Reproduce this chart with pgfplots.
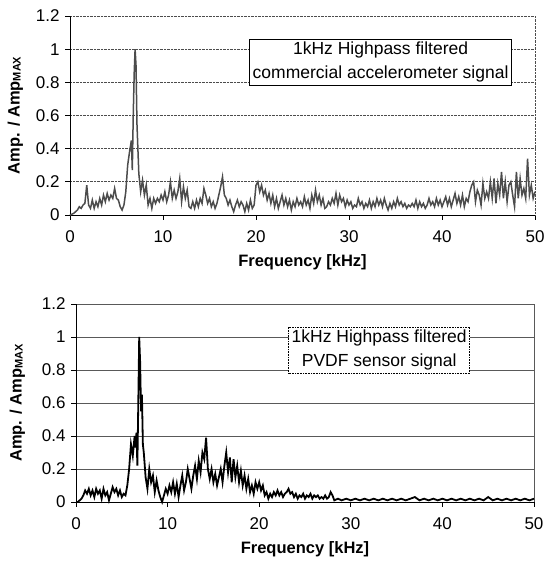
\documentclass[border=0pt]{standalone}
\usepackage{pgfplots}
\pgfplotsset{compat=1.18}
\usepackage{fontspec}
\setmainfont{Liberation Sans}
\begin{document}
\begin{tikzpicture}
\path[use as bounding box] (0pt,0pt) rectangle (555pt,561pt);
\pgfplotsset{
  myax/.style={
    scale only axis,
    xmin=0, xmax=50, ymin=0, ymax=1.2,
    xtick={0,10,20,30,40,50},
    ytick={0,0.2,0.4,0.6,0.8,1,1.2},
    yticklabels={0,0.2,0.4,0.6,0.8,1,1.2},
    axis x line*=bottom, axis y line*=left,
    axis line style={black, line width=0.8pt},
    tick align=outside,
    major tick length=5pt,
    tick style={black, line width=0.8pt},
    ymajorgrids=true,
    /pgf/number format/assume math mode=true,
    tick label style={font=\fontsize{17}{19}\selectfont},
    xticklabel style={yshift=-7pt},
    yticklabel style={xshift=-2pt},
    label style={font=\fontsize{16.5}{18}\selectfont\bfseries},
    xlabel={Frequency [kHz]},
    xlabel style={yshift=0pt},
    ylabel={Amp. / Amp\raisebox{-1pt}{\fontsize{11}{12}\selectfont MAX}},
    extra x ticks={50},
    extra x tick labels={},
    extra x tick style={xmajorgrids=true, major tick length=0pt},
    clip=false,
  }
}
% ---------------- top plot ----------------
\begin{axis}[myax, width=465pt, height=199pt, at={(70pt,346pt)}, anchor=origin,
  ylabel style={yshift=6pt},
  grid style={densely dotted, black!70, line width=0.7pt}]
\addplot[black!70, line width=1.5pt] coordinates {
(0,0) (0.4,0.01) (0.8,0.03) (1.0,0.05) (1.2,0.04) (1.4,0.06) (1.6,0.07)
(1.8,0.18) (2.0,0.06) (2.2,0.04) (2.4,0.09) (2.6,0.04) (2.8,0.08) (3.0,0.05) (3.2,0.1) (3.4,0.06)
(3.6,0.12) (3.8,0.08) (4.0,0.13) (4.2,0.09) (4.4,0.12) (4.6,0.1) (4.8,0.16) (5.0,0.1) (5.2,0.09)
(5.4,0.05) (5.6,0.03) (5.8,0.06) (6.0,0.14) (6.2,0.3) (6.4,0.38) (6.6,0.45) (6.7,0.27) (6.8,0.6)
(6.9,0.85) (7.0,1.0) (7.1,0.9) (7.2,0.55) (7.4,0.25) (7.6,0.14) (7.8,0.21) (8.0,0.12) (8.2,0.18)
(8.4,0.06) (8.6,0.1) (8.8,0.04) (9.0,0.1) (9.2,0.07) (9.4,0.1) (9.6,0.08) (9.8,0.12) (10.0,0.09)
(10.2,0.14) (10.4,0.08) (10.6,0.12) (10.8,0.2) (11.0,0.1) (11.2,0.15) (11.4,0.1) (11.6,0.14)
(11.8,0.22) (12.0,0.08) (12.2,0.17) (12.4,0.1) (12.6,0.15) (12.8,0.05) (13.0,0.04) (13.2,0.08)
(13.4,0.04) (13.6,0.09) (13.8,0.05) (14.0,0.1) (14.2,0.07) (14.4,0.16) (14.6,0.12) (14.8,0.07)
(15.0,0.1) (15.2,0.05) (15.4,0.08) (15.6,0.04) (15.8,0.07) (16.0,0.12) (16.2,0.17) (16.4,0.23)
(16.6,0.12) (16.8,0.1) (17.0,0.06) (17.2,0.09) (17.4,0.05) (17.6,0.02) (17.8,0.06) (18.0,0.09)
(18.2,0.05) (18.4,0.08) (18.6,0.06) (18.8,0.02) (19.0,0.07) (19.2,0.03) (19.4,0.09) (19.6,0.04)
(19.8,0.06) (20.0,0.18) (20.2,0.2) (20.4,0.14) (20.6,0.18) (20.8,0.12) (21.0,0.15) (21.2,0.09)
(21.4,0.13) (21.6,0.07) (21.8,0.12) (22.0,0.05) (22.2,0.1) (22.4,0.04) (22.6,0.08) (22.8,0.12)
(23.0,0.06) (23.2,0.1) (23.4,0.05) (23.6,0.09) (23.8,0.03) (24.0,0.08) (24.2,0.05) (24.4,0.1)
(24.6,0.06) (24.8,0.08) (25.0,0.05) (25.2,0.11) (25.4,0.06) (25.6,0.09) (25.8,0.04) (26.0,0.12)
(26.2,0.07) (26.4,0.15) (26.6,0.08) (26.8,0.12) (27.0,0.06) (27.2,0.1) (27.4,0.04) (27.6,0.05)
(27.8,0.08) (28.0,0.06) (28.2,0.1) (28.4,0.07) (28.6,0.13) (28.8,0.06) (29.0,0.12) (29.2,0.08)
(29.4,0.1) (29.6,0.05) (29.8,0.09) (30.0,0.06) (30.2,0.08) (30.4,0.04) (30.6,0.06) (30.8,0.05)
(31.0,0.1) (31.2,0.06) (31.4,0.08) (31.6,0.04) (31.8,0.07) (32.0,0.05) (32.2,0.09) (32.4,0.04)
(32.6,0.08) (32.8,0.05) (33.0,0.1) (33.2,0.06) (33.4,0.09) (33.6,0.05) (33.8,0.1) (34.0,0.06)
(34.2,0.03) (34.4,0.07) (34.6,0.04) (34.8,0.08) (35.0,0.05) (35.2,0.1) (35.4,0.06) (35.6,0.08)
(35.8,0.05) (36.0,0.07) (36.2,0.04) (36.4,0.06) (36.6,0.05) (36.8,0.07) (37.0,0.05) (37.2,0.09)
(37.4,0.04) (37.6,0.08) (37.8,0.05) (38.0,0.07) (38.2,0.04) (38.4,0.06) (38.6,0.1) (38.8,0.06)
(39.0,0.08) (39.2,0.05) (39.4,0.1) (39.6,0.06) (39.8,0.09) (40.0,0.05) (40.2,0.08) (40.4,0.11)
(40.6,0.06) (40.8,0.1) (41.0,0.05) (41.2,0.09) (41.4,0.13) (41.6,0.07) (41.8,0.11) (42.0,0.06)
(42.2,0.12) (42.4,0.05) (42.6,0.1) (42.8,0.08) (43.0,0.14) (43.2,0.18) (43.4,0.2) (43.6,0.08)
(43.8,0.15) (44.0,0.12) (44.2,0.06) (44.4,0.19) (44.6,0.1) (44.8,0.14) (45.0,0.1) (45.2,0.2)
(45.4,0.1) (45.6,0.22) (45.8,0.07) (46.0,0.19) (46.2,0.12) (46.4,0.26) (46.6,0.1) (46.8,0.2)
(47.0,0.08) (47.2,0.18) (47.4,0.2) (47.6,0.12) (47.8,0.05) (48.0,0.26) (48.2,0.1) (48.4,0.22)
(48.6,0.12) (48.8,0.16) (49.0,0.1) (49.2,0.34) (49.4,0.12) (49.6,0.18) (49.8,0.1) (50.0,0.14)
};
\node[draw=black, line width=0.6pt, fill=white, align=center, inner sep=3pt,
  font=\fontsize{17.5}{24}\selectfont] at (axis cs:33.4,0.92)
  {1kHz Highpass filtered\\commercial accelerometer signal};
\end{axis}
% ---------------- bottom plot ----------------
\begin{axis}[myax, width=458pt, height=198pt, at={(76pt,59pt)}, anchor=origin,
  ylabel style={yshift=10pt},
  grid style={black!65, line width=0.7pt}]
\addplot[black, line width=1.8pt] coordinates {
(0,0) (0.2,0) (0.4,0.01) (0.6,0.02) (0.8,0.04) (1.0,0.07) (1.2,0.05) (1.4,0.08) (1.6,0.04)
(1.8,0.07) (2.0,0.03) (2.2,0.08) (2.4,0.05) (2.6,0.07) (2.8,0.02) (3.0,0.08) (3.2,0.04) (3.4,0.06)
(3.6,0.01) (3.8,0.05) (4.0,0.09) (4.2,0.06) (4.4,0.08) (4.6,0.04) (4.8,0.07) (5.0,0.03) (5.2,0.05)
(5.4,0.04) (5.6,0.1) (5.8,0.2) (6.0,0.35) (6.2,0.28) (6.4,0.4) (6.5,0.33) (6.6,0.42) (6.7,0.22)
(6.8,0.6) (6.9,1.0) (7.0,0.85) (7.1,0.55) (7.2,0.65) (7.3,0.35) (7.4,0.3) (7.6,0.15) (7.8,0.08)
(8.0,0.2) (8.2,0.12) (8.4,0.16) (8.6,0.06) (8.8,0.13) (9.0,0.07) (9.2,0.03) (9.4,0.0) (9.6,0.04)
(9.8,0.08) (10.0,0.05) (10.2,0.1) (10.4,0.06) (10.6,0.12) (10.8,0.05) (11.0,0.11) (11.2,0.03)
(11.4,0.1) (11.6,0.16) (11.8,0.07) (12.0,0.12) (12.2,0.2) (12.4,0.14) (12.6,0.08) (12.8,0.16)
(13.0,0.22) (13.2,0.14) (13.4,0.25) (13.6,0.18) (13.8,0.3) (14.0,0.26) (14.2,0.39) (14.4,0.2)
(14.6,0.14) (14.8,0.2) (15.0,0.12) (15.2,0.17) (15.4,0.1) (15.6,0.15) (15.8,0.2) (16.0,0.12)
(16.2,0.22) (16.4,0.3) (16.6,0.18) (16.8,0.27) (17.0,0.12) (17.2,0.26) (17.4,0.15) (17.6,0.22)
(17.8,0.12) (18.0,0.19) (18.2,0.1) (18.4,0.16) (18.6,0.08) (18.8,0.14) (19.0,0.06) (19.2,0.1)
(19.4,0.05) (19.6,0.12) (19.8,0.08) (20.0,0.12) (20.2,0.07) (20.4,0.1) (20.6,0.04) (20.8,0.06)
(21.0,0.02) (21.2,0.05) (21.4,0.03) (21.6,0.06) (21.8,0.04) (22.0,0.07) (22.2,0.04) (22.4,0.06)
(22.6,0.03) (22.8,0.05) (23.0,0.06) (23.2,0.08) (23.4,0.05) (23.6,0.06) (23.8,0.03) (24.0,0.05)
(24.2,0.02) (24.4,0.04) (24.6,0.03) (24.8,0.05) (25.0,0.02) (25.2,0.04) (25.4,0.03) (25.6,0.05)
(25.8,0.02) (26.0,0.04) (26.2,0.03) (26.4,0.04) (26.6,0.02) (26.8,0.03) (27.0,0.02) (27.2,0.04)
(27.4,0.02) (27.6,0.03) (27.8,0.06) (28.0,0.04) (28.2,0.01) (28.6,0.02) (29.0,0.01) (29.5,0.02)
(30.0,0.01) (30.5,0.02) (31.0,0.01) (31.5,0.02) (32.0,0.01) (32.5,0.02) (33.0,0.01) (33.5,0.02)
(34.0,0.01) (34.5,0.02) (35.0,0.01) (35.5,0.02) (36.0,0.01) (36.5,0.02) (37.0,0.03) (37.5,0.01)
(38.0,0.02) (38.5,0.01) (39.0,0.02) (39.5,0.01) (40.0,0.02) (40.5,0.01) (41.0,0.02) (41.5,0.01)
(42.0,0.02) (42.5,0.01) (43.0,0.02) (43.5,0.01) (44.0,0.02) (44.5,0.01) (45.0,0.03) (45.5,0.01)
(46.0,0.02) (46.5,0.01) (47.0,0.02) (47.5,0.01) (48.0,0.02) (48.5,0.01) (49.0,0.02) (49.5,0.01)
(50.0,0.02)
};
\node[draw=black, densely dotted, line width=0.6pt, fill=white, align=center, inner sep=3pt,
  font=\fontsize{17.5}{24}\selectfont] at (axis cs:33.1,0.92)
  {1kHz Highpass filtered\\PVDF sensor signal};
\end{axis}
\end{tikzpicture}
\end{document}
